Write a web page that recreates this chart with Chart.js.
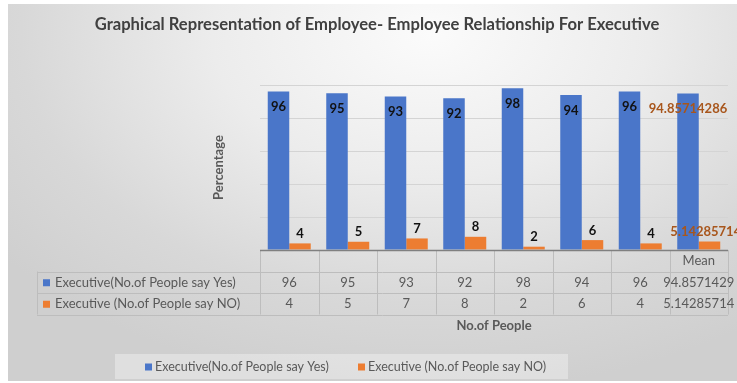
<!DOCTYPE html>
<html>
<head>
<meta charset="utf-8">
<script src="https://cdn.jsdelivr.net/npm/chart.js@4.4.1/dist/chart.umd.min.js"></script>
<style>
  html, body { margin: 0; padding: 0; background: #ffffff; }
  #wrap { position: relative; width: 737px; height: 383px; overflow: hidden; background: #ffffff; }
  #bg { position: absolute; left: 8px; top: 4px; right: 0; bottom: 2px;
        background: radial-gradient(ellipse 75% 95% at 58% 8%, #fbfbfb 0%, #ececec 40%, #d8d8d8 75%, #cfcfcf 100%); }
  canvas { position: absolute; left: 0; top: 0; }
</style>
</head>
<body>
<div id="wrap"><div id="bg"></div><canvas id="c" width="737" height="383"></canvas></div>
<script>
const titleText = "Graphical Representation of Employee- Employee Relationship For Executive";
const yTitle = "Percentage";
const xTitle = "No.of People";
const categories = ["", "", "", "", "", "", "", "Mean"];
const seriesNames = ["Executive(No.of People say Yes)", "Executive (No.of People say NO)"];
const yesValues = [96, 95, 93, 92, 98, 94, 96, 94.85714286];
const noValues = [4, 5, 7, 8, 2, 6, 4, 5.142857143];
const yTicks = { min: 0, max: 100, step: 20 };

const BLUE = "#4a76c9";
const ORANGE = "#ed7d31";
const BROWN = "#a8561c";
const TXT = "#595959";
const FONT = "Lato, 'Open Sans', sans-serif";

function fmt(v, sig) {
  if (Number.isInteger(v)) return String(v);
  return String(parseFloat(v.toPrecision(sig)));
}

const overlay = {
  id: "overlay",
  afterDatasetsDraw(chart) {
    const ctx = chart.ctx;
    const xs = chart.scales.x, ys = chart.scales.y, ca = chart.chartArea;
    const n = categories.length;
    const colW = (ca.right - ca.left) / n;
    ctx.save();

    // title
    ctx.fillStyle = "#404040";
    ctx.font = "bold 16.6px " + FONT;
    ctx.textAlign = "center"; ctx.textBaseline = "middle";
    ctx.fillText(titleText, 377, 25);

    // y title
    ctx.save();
    ctx.translate(219, (ca.top + ca.bottom) / 2);
    ctx.rotate(-Math.PI / 2);
    ctx.font = "bold 13px " + FONT;
    ctx.fillStyle = TXT;
    ctx.fillText(yTitle, 0, 0);
    ctx.restore();

    // data labels
    ctx.font = "bold 13px " + FONT;
    ctx.textAlign = "center"; ctx.textBaseline = "middle";
    const m0 = chart.getDatasetMeta(0), m1 = chart.getDatasetMeta(1);
    m0.data.forEach((el, i) => {
      ctx.fillStyle = categories[i] === "Mean" ? BROWN : "#111";
      ctx.fillText(fmt(yesValues[i], 10), el.x, el.y + 15.5);
    });
    m1.data.forEach((el, i) => {
      ctx.fillStyle = categories[i] === "Mean" ? BROWN : "#111";
      ctx.fillText(fmt(noValues[i], 10), el.x, el.y - 9.5);
    });

    // data table
    const top = ys.getPixelForValue(0);
    const rowH = 21.5;
    const tableLeft = 37;
    ctx.strokeStyle = "#bdbdbd"; ctx.lineWidth = 1;
    ctx.beginPath();
    for (let r = 1; r <= 3; r++) {
      const y = Math.round(top + r * rowH) + 0.5;
      ctx.moveTo(tableLeft, y); ctx.lineTo(ca.right, y);
    }
    for (let i = 0; i <= n; i++) {
      const x = Math.round(ca.left + i * colW) + 0.5;
      ctx.moveTo(x, top); ctx.lineTo(x, top + 3 * rowH);
    }
    const lx = tableLeft + 0.5;
    ctx.moveTo(lx, top + rowH); ctx.lineTo(lx, top + 3 * rowH);
    ctx.stroke();

    // axis line
    ctx.strokeStyle = "#808080"; ctx.lineWidth = 1.5;
    ctx.beginPath(); ctx.moveTo(ca.left, top + 0.5); ctx.lineTo(ca.right, top + 0.5); ctx.stroke();

    ctx.font = "13px " + FONT;
    ctx.fillStyle = TXT; ctx.textAlign = "center"; ctx.textBaseline = "middle";
    categories.forEach((c, i) => {
      const cx = xs.getPixelForValue(i);
      ctx.fillText(c, cx, top + rowH * 0.5 + 0.5);
      ctx.fillText(fmt(yesValues[i], 9), cx, top + rowH * 1.5 + 0.5);
      ctx.fillText(fmt(noValues[i], 9), cx, top + rowH * 2.5 + 0.5);
    });
    ctx.textAlign = "left";
    [[BLUE, seriesNames[0], 1.5], [ORANGE, seriesNames[1], 2.5]].forEach(([col, name, r]) => {
      const cy = top + rowH * r + 0.5;
      ctx.fillStyle = col; ctx.fillRect(43, cy - 3.5, 7, 7);
      ctx.fillStyle = TXT; ctx.fillText(name, 55, cy);
    });

    // x title
    ctx.font = "bold 13px " + FONT;
    ctx.textAlign = "center";
    ctx.fillText(xTitle, (ca.left + ca.right) / 2, 326);

    // legend
    ctx.fillStyle = "rgba(255,255,255,0.33)";
    ctx.fillRect(115, 354, 453, 25);
    ctx.font = "12.5px " + FONT;
    ctx.textAlign = "left";
    [[BLUE, seriesNames[0], 145], [ORANGE, seriesNames[1], 358]].forEach(([col, name, x]) => {
      ctx.fillStyle = col; ctx.fillRect(x, 363.5, 7, 7);
      ctx.fillStyle = TXT; ctx.fillText(name, x + 10, 367);
    });
    ctx.restore();
  }
};

new Chart(document.getElementById("c"), {
  type: "bar",
  data: {
    labels: categories,
    datasets: [
      { label: seriesNames[0], data: yesValues, backgroundColor: BLUE },
      { label: seriesNames[1], data: noValues, backgroundColor: ORANGE }
    ]
  },
  options: {
    responsive: false,
    animation: false,
    devicePixelRatio: 1,
    layout: { padding: { left: 260, right: 9, top: 85, bottom: 133 } },
    datasets: { bar: { categoryPercentage: 0.735, barPercentage: 1.0 } },
    plugins: { legend: { display: false }, title: { display: false }, tooltip: { enabled: false } },
    scales: {
      x: { display: false },
      y: {
        min: yTicks.min, max: yTicks.max,
        ticks: { display: false, stepSize: yTicks.step },
        grid: { color: "#d4d4d4", drawTicks: false, lineWidth: 1 },
        border: { display: false }
      }
    }
  },
  plugins: [overlay]
});
</script>
</body>
</html>
